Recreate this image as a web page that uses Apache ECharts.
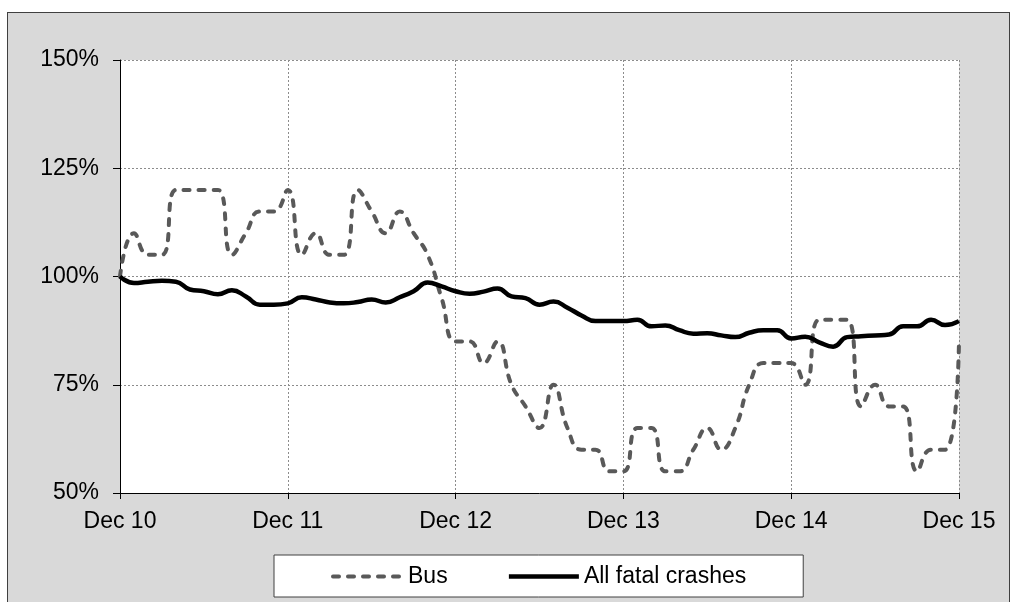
<!DOCTYPE html>
<html>
<head>
<meta charset="utf-8">
<script src="https://cdn.jsdelivr.net/npm/echarts@6/dist/echarts.min.js"></script>
<style>
html,body{margin:0;padding:0;background:#fff;width:1016px;height:602px;overflow:hidden;}
#bg{position:absolute;left:7px;top:12px;width:1001px;height:600px;background:#d9d9d9;border:1px solid #404040;}
#chart{position:absolute;left:0;top:0;width:1016px;height:602px;}
</style>
</head>
<body>
<div id="bg"></div>
<div id="chart"></div>
<script>
const months = [
 'Dec 10','Jan 11','Feb 11','Mar 11','Apr 11','May 11','Jun 11','Jul 11','Aug 11','Sep 11','Oct 11','Nov 11',
 'Dec 11','Jan 12','Feb 12','Mar 12','Apr 12','May 12','Jun 12','Jul 12','Aug 12','Sep 12','Oct 12','Nov 12',
 'Dec 12','Jan 13','Feb 13','Mar 13','Apr 13','May 13','Jun 13','Jul 13','Aug 13','Sep 13','Oct 13','Nov 13',
 'Dec 13','Jan 14','Feb 14','Mar 14','Apr 14','May 14','Jun 14','Jul 14','Aug 14','Sep 14','Oct 14','Nov 14',
 'Dec 14','Jan 15','Feb 15','Mar 15','Apr 15','May 15','Jun 15','Jul 15','Aug 15','Sep 15','Oct 15','Nov 15',
 'Dec 15'
];
const bus = [100,110,105,105,120,120,120,120,105,110,115,115,120,105,110,105,105,120,115,110,115,110,105,95,85,85,80,85,75,70,65,75,65,60,60,55,55,65,65,55,55,60,65,60,65,75,80,80,80,75,90,90,90,70,75,70,70,55,60,60,85];
const allFatal = [100,98.5,98.8,99,98.8,97,96.6,95.9,96.8,95.4,93.5,93.5,93.8,95.2,94.7,94,93.8,94.1,94.7,94,95.2,96.6,98.6,97.7,96.6,96,96.5,97.2,95.4,95,93.5,94.2,92.8,91,89.7,89.7,89.7,90,88.5,88.7,87.6,86.8,86.9,86.4,86,87,87.6,87.6,85.7,86.1,84.8,83.8,86,86.2,86.4,86.6,88.5,88.5,90,88.8,89.7];
const yTicks = [50,75,100,125,150];
const seriesNames = ['Bus','All fatal crashes'];

const FONT = '"Liberation Sans", Arial, sans-serif';
const FS = 23;
const chart = echarts.init(document.getElementById('chart'), null, {renderer:'canvas'});
chart.setOption({
  backgroundColor: 'transparent',
  animation: false,
  textStyle: {fontFamily: FONT},
  grid: {left:120, right:57, top:60, bottom:109, show:true, backgroundColor:'#fff', borderWidth:0},
  xAxis: {
    type:'category', data: months, boundaryGap:false,
    axisLine:{lineStyle:{color:'#000', width:1}},
    axisTick:{show:true, interval:11, length:6, lineStyle:{color:'#000'}},
    axisLabel:{interval:11, color:'#000', fontSize:FS, fontFamily:FONT, margin:17},
    splitLine:{show:true, interval:11, lineStyle:{color:'#8c8c8c', type:[2,2], width:1}}
  },
  yAxis: {
    type:'value', min:yTicks[0], max:yTicks[yTicks.length-1], interval:25,
    axisLine:{show:true, lineStyle:{color:'#000', width:1}},
    axisTick:{show:true, length:7, lineStyle:{color:'#000'}},
    axisLabel:{formatter:'{value}%', color:'#000', fontSize:FS, fontFamily:FONT, margin:21},
    splitLine:{show:true, lineStyle:{color:'#8c8c8c', type:[2,2], width:1}}
  },
  legend: {
    data: [
      {name: seriesNames[0], lineStyle:{color:'#595959', width:4, type:[6,9], cap:'round'}},
      {name: seriesNames[1], lineStyle:{color:'#000', width:4.5, type:'solid'}}
    ],
    left: 274, top: 555,
    padding: [10, 57, 9, 57],
    itemGap: 59,
    itemWidth: 70, itemHeight: 14,
    backgroundColor:'#fff', borderColor:'#404040', borderWidth:1,
    itemStyle:{opacity:0},
    textStyle:{color:'#000', fontSize:FS, fontFamily:FONT}
  },
  series: [
    {name:seriesNames[0], type:'line', data: bus, smooth:0.5, symbol:'none', showSymbol:false,
     lineStyle:{color:'#595959', width:4, type:[6,9], cap:'round'}, itemStyle:{color:'#595959'}, z:3},
    {name:seriesNames[1], type:'line', data: allFatal, smooth:0.5, symbol:'none', showSymbol:false,
     lineStyle:{color:'#000', width:4.5}, itemStyle:{color:'#000'}, z:4}
  ]
});
</script>
</body>
</html>
